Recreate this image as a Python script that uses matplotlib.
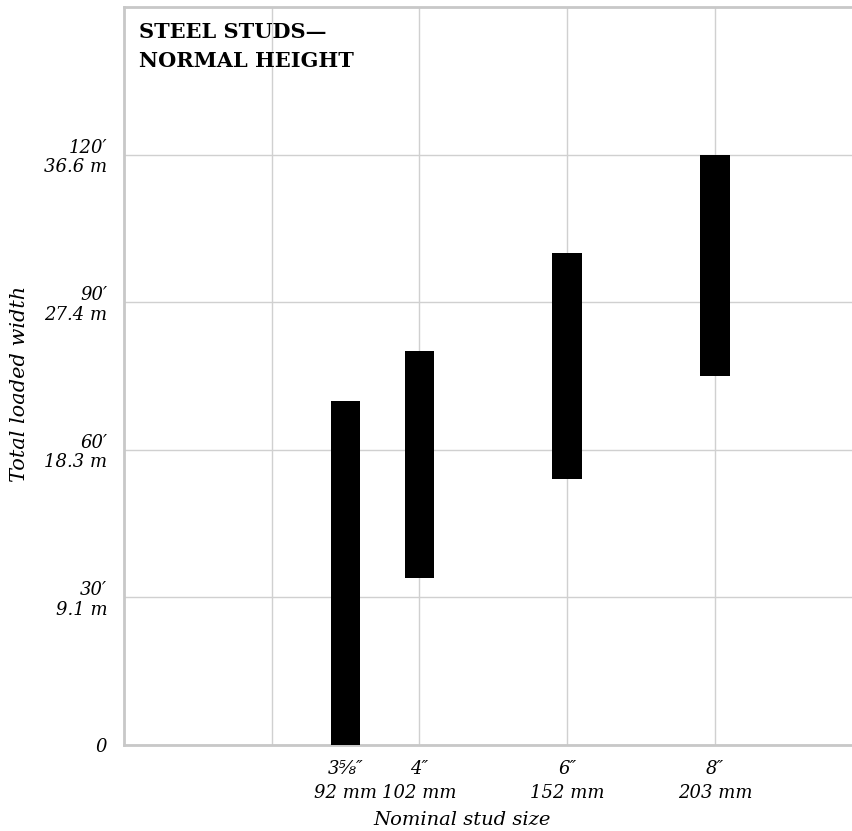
import numpy as np
import matplotlib
matplotlib.use('Agg')
from matplotlib import pyplot as plt

#%% Data

stud_pos    = [3, 4, 6, 8]            # x position of each bar (inch scale)
stud_inch   = ['3⅝″', '4″', '6″', '8″']
stud_mm     = ['92 mm', '102 mm', '152 mm', '203 mm']
width_low   = [0, 34, 54, 75]         # bottom of range [ft]
width_high  = [70, 80, 100, 120]      # top of range [ft]

xgrid_vals   = [2, 4, 6, 8]
ytick_vals   = [0, 30, 60, 90, 120]
ytick_labels = ['0', '30′\n9.1 m', '60′\n18.3 m', '90′\n27.4 m', '120′\n36.6 m']

#%% Style

plt.rcParams['font.family'] = 'DejaVu Serif'
grid_c  = '#d0d0d0'
spine_c = '#c8c8c8'

#%% Plot

fig = plt.figure(figsize=(8.53, 8.31), dpi=100)
ax = fig.add_axes([124/853, 1-745/831, 1-124/853, (745-7)/831])

heights = np.array(width_high) - np.array(width_low)
ax.bar(stud_pos, heights, bottom=width_low, width=0.4, color='black', zorder=3)

ax.set_xlim(0, 9.87)
ax.set_ylim(0, 150)

# vertical gridlines sit on the even inches, labels sit under the bars
for xv in xgrid_vals:
    ax.axvline(xv, color=grid_c, lw=1, zorder=1)
ax.set_yticks(ytick_vals)
ax.yaxis.grid(True, color=grid_c, lw=1)
ax.set_axisbelow(True)

ax.set_xticks(stud_pos)
ax.set_xticklabels([a + '\n' + b for a, b in zip(stud_inch, stud_mm)],
                   fontstyle='italic', fontsize=13, linespacing=1.4)
ax.tick_params(axis='x', length=0, pad=11)

ax.set_yticklabels(ytick_labels, fontstyle='italic', fontsize=13,
                   linespacing=1.1)
ax.tick_params(axis='y', length=0, pad=12)

ax.set_xlabel('Nominal stud size', fontstyle='italic', fontsize=14)
ax.xaxis.set_label_coords(0.4636, -0.089)
ax.set_ylabel('Total loaded width', fontstyle='italic', fontsize=15)
ax.yaxis.set_label_coords(-0.13, 0.49)

for s in ['left', 'top', 'bottom']:
    ax.spines[s].set_color(spine_c)
    ax.spines[s].set_linewidth(2)
ax.spines['right'].set_visible(False)

ax.text(0.02, 0.979, 'STEEL STUDS—\nNORMAL HEIGHT', transform=ax.transAxes,
        ha='left', va='top', fontsize=15, fontweight='bold', linespacing=1.55)

plt.savefig('out.png', dpi=100)
